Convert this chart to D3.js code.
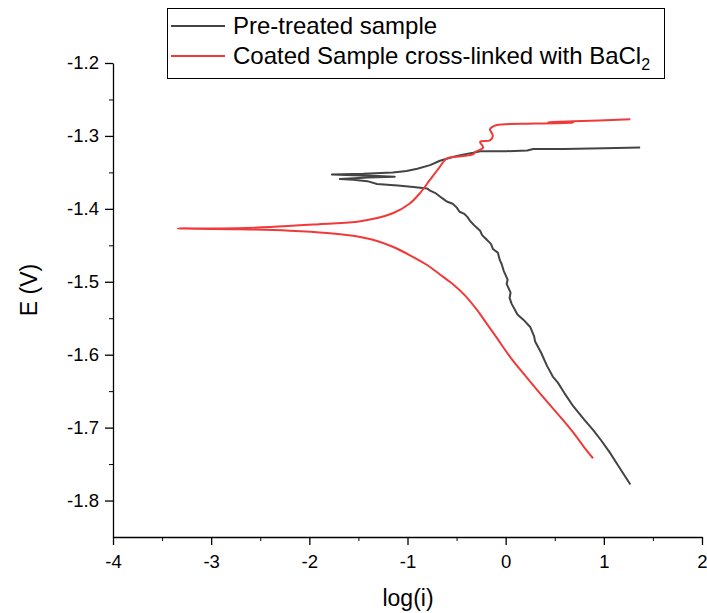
<!DOCTYPE html>
<html>
<head>
<meta charset="utf-8">
<script src="https://cdn.jsdelivr.net/npm/d3@7"></script>
<style>
  body { margin: 0; background: #fff; }
  text { font-family: Arial, "Liberation Sans", sans-serif; }
</style>
</head>
<body>
<svg width="707" height="613"></svg>
<script>
// data
const seriesNames = ['Pre-treated sample', 'Coated Sample cross-linked with BaCl'];

// pre-treated: cathodic branch (bottom) up to Ecorr, then anodic branch to the right
const preLogI = [1.27, 1.16, 1.06, 0.97, 0.89, 0.80, 0.69, 0.60, 0.53, 0.48, 0.42, 0.36, 0.30, 0.29, 0.25, 0.18, 0.12, 0.06, 0.04, 0.05, 0.01, 0.02, -0.02, -0.04, -0.06, -0.08, -0.13, -0.15, -0.21, -0.24, -0.26, -0.31, -0.36, -0.39, -0.42, -0.47, -0.50, -0.54, -0.60, -0.64, -0.67, -0.72, -0.77, -0.80, -0.94, -1.10, -1.31, -1.41, -1.55, -1.69, -1.40, -1.13, -1.30, -1.55, -1.77, -1.45, -1.15, -1.01, -0.90, -0.77, -0.67, -0.54, -0.45, -0.33, -0.26, 0.00, 0.22, 0.28, 0.60, 1.00, 1.37];
const preE = [-1.778, -1.755, -1.734, -1.717, -1.703, -1.689, -1.671, -1.653, -1.638, -1.630, -1.615, -1.597, -1.582, -1.575, -1.562, -1.552, -1.545, -1.530, -1.522, -1.515, -1.503, -1.497, -1.485, -1.476, -1.470, -1.460, -1.455, -1.448, -1.440, -1.436, -1.430, -1.424, -1.417, -1.411, -1.407, -1.404, -1.398, -1.393, -1.390, -1.386, -1.383, -1.378, -1.375, -1.372, -1.370, -1.368, -1.366, -1.362, -1.360, -1.359, -1.357, -1.356, -1.355, -1.354, -1.353, -1.352, -1.350, -1.348, -1.345, -1.340, -1.334, -1.329, -1.326, -1.323, -1.321, -1.321, -1.320, -1.318, -1.318, -1.317, -1.316];

// coated: cathodic branch (bottom) up to Ecorr, then anodic branch to the right
const coatLogI = [0.89, 0.80, 0.69, 0.58, 0.40, 0.22, 0.05, -0.09, -0.20, -0.29, -0.42, -0.54, -0.67, -0.80, -0.97, -1.15, -1.31, -1.55, -1.82, -2.20, -2.70, -3.34,
    -2.90, -2.40, -1.90, -1.48, -1.15, -0.98, -0.87, -0.77, -0.68, -0.60, -0.45, -0.33, -0.31, -0.23, -0.26, -0.16, -0.13, -0.16, -0.14, -0.09, 0.30, 0.69, 0.43, 0.69, 1.27];
const coatE = [-1.742, -1.727, -1.707, -1.689, -1.661, -1.632, -1.604, -1.577, -1.556, -1.539, -1.518, -1.503, -1.490, -1.477, -1.464, -1.452, -1.444, -1.437, -1.433, -1.430, -1.428, -1.427,
    -1.427, -1.425, -1.421, -1.417, -1.406, -1.393, -1.378, -1.360, -1.344, -1.331, -1.328, -1.325, -1.322, -1.316, -1.308, -1.306, -1.300, -1.291, -1.288, -1.285, -1.283, -1.282, -1.281, -1.280, -1.277];

const xTicks = [-4, -3, -2, -1, 0, 1, 2];
const yTicks = [-1.8, -1.7, -1.6, -1.5, -1.4, -1.3, -1.2];
const colors = ['#444444', '#f03a3a'];

const svg = d3.select('svg');
const x = d3.scaleLinear().domain([-4, 2]).range([113, 702]);
const y = d3.scaleLinear().domain([-1.85, -1.2]).range([537, 63]);

// minor ticks
svg.append('g').attr('transform', 'translate(0,537)')
    .call(d3.axisBottom(x).tickValues(d3.range(-3.5, 2, 1)).tickSize(4).tickFormat(''))
    .call(g => g.select('.domain').remove());
svg.append('g').attr('transform', 'translate(113,0)')
    .call(d3.axisLeft(y).tickValues(d3.range(-1.75, -1.2, 0.1).map(v => +v.toFixed(2))).tickSize(4).tickFormat(''))
    .call(g => g.select('.domain').remove());

// major axes
const xAxis = svg.append('g').attr('transform', 'translate(0,537)')
    .call(d3.axisBottom(x).tickValues(xTicks).tickSize(8).tickSizeOuter(0).tickPadding(10).tickFormat(d => String(d)));
const yAxis = svg.append('g').attr('transform', 'translate(113,0)')
    .call(d3.axisLeft(y).tickValues(yTicks).tickSize(8).tickSizeOuter(0).tickPadding(6).tickFormat(d => d.toFixed(1)));
[xAxis, yAxis].forEach(g => {
    g.selectAll('text').style('font-size', '18.5px').attr('fill', '#000');
    g.selectAll('line, path').attr('stroke', '#000').attr('stroke-width', 1.3);
});

// axis titles
svg.append('text').attr('x', 408).attr('y', 606).attr('text-anchor', 'middle')
    .style('font-size', '23px').text('log(i)');
svg.append('text').attr('transform', 'translate(37,290) rotate(-90)').attr('text-anchor', 'middle')
    .style('font-size', '23px').text('E (V)');

// curves
const curves = [d3.curveLinear, d3.curveCatmullRom.alpha(0.5)];
const series = [d3.zip(preLogI, preE), d3.zip(coatLogI, coatE)];
svg.append('g').selectAll('path.curve')
    .data(series)
    .enter().append('path')
    .attr('class', 'curve')
    .attr('d', (d, i) => d3.line().curve(curves[i]).x(p => x(p[0])).y(p => y(p[1]))(d))
    .attr('fill', 'none')
    .attr('stroke', (d, i) => colors[i])
    .attr('stroke-width', 2)
    .attr('stroke-linejoin', 'round');

// legend
const lg = svg.append('g');
lg.append('rect').attr('x', 167.5).attr('y', 8.5).attr('width', 497).attr('height', 70)
    .attr('fill', '#fff').attr('stroke', '#000').attr('stroke-width', 1);
seriesNames.forEach((name, i) => {
    const ly = 26 + i * 30;
    lg.append('line').attr('x1', 171).attr('x2', 225).attr('y1', ly).attr('y2', ly)
        .attr('stroke', colors[i]).attr('stroke-width', 2);
    const t = lg.append('text').attr('x', 233).attr('y', ly + 8).style('font-size', '24px').text(name);
    if (i === 1) {
        t.append('tspan').attr('dy', 6).style('font-size', '16px').text('2');
    }
});
</script>
</body>
</html>
